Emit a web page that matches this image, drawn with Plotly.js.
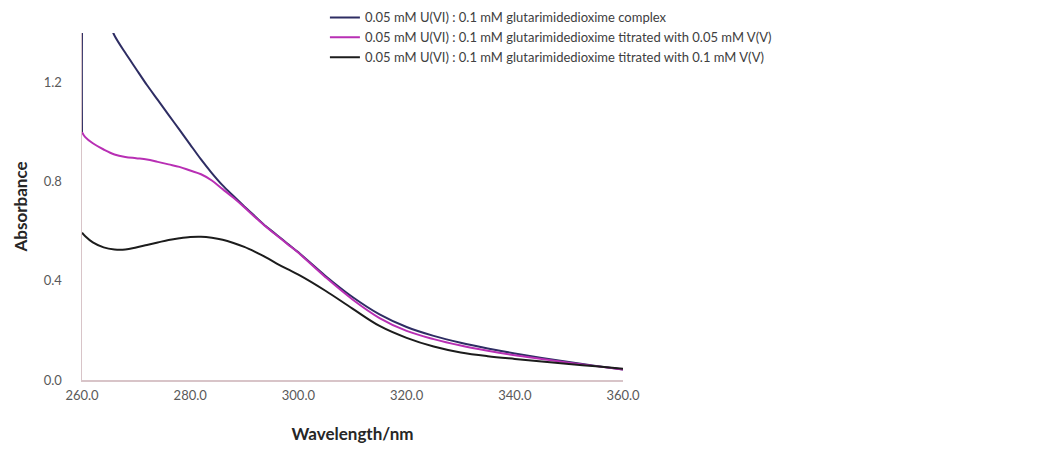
<!DOCTYPE html>
<html>
<head>
<meta charset="utf-8">
<script src="https://cdn.plot.ly/plotly-3.0.1.min.js"></script>
<style>html,body{margin:0;padding:0;background:#fff;}#chart{width:1049px;height:450px;}</style>
</head>
<body>
<div id="chart"></div>
<script>
const wavelength = [260, 260.6, 262, 264, 266, 268, 270, 272, 274, 276, 278, 280, 282, 284, 286, 288, 290, 292, 294, 296, 298, 300, 305, 310, 315, 320, 325, 330, 335, 340, 345, 350, 355, 360];
const complexAbs = [1.0, 1.7, 1.62, 1.5, 1.39, 1.32, 1.255, 1.19, 1.13, 1.07, 1.01, 0.95, 0.89, 0.835, 0.785, 0.742, 0.70, 0.66, 0.62, 0.585, 0.55, 0.515, 0.42, 0.335, 0.265, 0.214, 0.178, 0.15, 0.127, 0.107, 0.089, 0.073, 0.057, 0.042];
const v005Abs = [1.0, 0.98, 0.955, 0.93, 0.91, 0.90, 0.895, 0.89, 0.88, 0.87, 0.86, 0.845, 0.83, 0.805, 0.77, 0.735, 0.697, 0.657, 0.618, 0.583, 0.548, 0.513, 0.415, 0.325, 0.25, 0.198, 0.165, 0.139, 0.118, 0.10, 0.085, 0.07, 0.056, 0.042];
const v01Abs = [0.594, 0.58, 0.555, 0.535, 0.527, 0.527, 0.535, 0.545, 0.555, 0.565, 0.572, 0.577, 0.578, 0.574, 0.566, 0.553, 0.537, 0.517, 0.495, 0.47, 0.447, 0.425, 0.36, 0.288, 0.218, 0.17, 0.135, 0.111, 0.096, 0.085, 0.075, 0.065, 0.055, 0.045];
const seriesNames = [
  "0.05 mM U(VI) : 0.1 mM glutarimidedioxime complex",
  "0.05 mM U(VI) : 0.1 mM glutarimidedioxime titrated with 0.05 mM V(V)",
  "0.05 mM U(VI) : 0.1 mM glutarimidedioxime titrated with 0.1 mM V(V)"
];
const xTicks = [260, 280, 300, 320, 340, 360];
const yTicks = [0, 0.4, 0.8, 1.2];

const traces = [
  {x: wavelength, y: complexAbs, name: seriesNames[0], type: 'scatter', mode: 'lines', line: {color: '#2e2d63', width: 2, shape: 'spline', smoothing: 0.7}},
  {x: wavelength, y: v005Abs, name: seriesNames[1], type: 'scatter', mode: 'lines', line: {color: '#b82fb4', width: 2, shape: 'spline'}},
  {x: wavelength, y: v01Abs, name: seriesNames[2], type: 'scatter', mode: 'lines', line: {color: '#1c1c1c', width: 2, shape: 'spline'}}
];

const layout = {
  width: 1049, height: 450,
  margin: {l: 82, r: 426, t: 33, b: 70, autoexpand: false},
  paper_bgcolor: '#fff', plot_bgcolor: '#fff',
  font: {family: 'Lato, "Liberation Sans", sans-serif', color: '#595959', size: 12},
  showlegend: true,
  legend: {x: 0.449, y: 1.088, xanchor: 'left', yanchor: 'top', bgcolor: 'rgba(0,0,0,0)',
           font: {size: 13, color: '#404040'}, tracegroupgap: 0},
  xaxis: {range: [260, 360], tickvals: xTicks, tickformat: '.1f', showgrid: false, zeroline: false,
          showline: true, linecolor: '#d8c4c8', linewidth: 1.5, ticks: '', ticklabelstandoff: 3,
          tickfont: {size: 13},
          title: {text: 'Wavelength/nm', font: {size: 17, color: '#262626', family: 'Lato, sans-serif', weight: 'bold'}, standoff: 26}},
  yaxis: {range: [0, 1.4], tickvals: yTicks, tickformat: '.1f', showgrid: false, zeroline: false,
          showline: true, linecolor: '#d8c4c8', linewidth: 1.5, ticks: '', ticklabelstandoff: 16,
          tickfont: {size: 13},
          title: {text: 'Absorbance', font: {size: 17, color: '#262626', family: 'Lato, sans-serif', weight: 'bold'}, standoff: 12}}
};

Plotly.newPlot('chart', traces, layout, {staticPlot: true});
</script>
</body>
</html>
